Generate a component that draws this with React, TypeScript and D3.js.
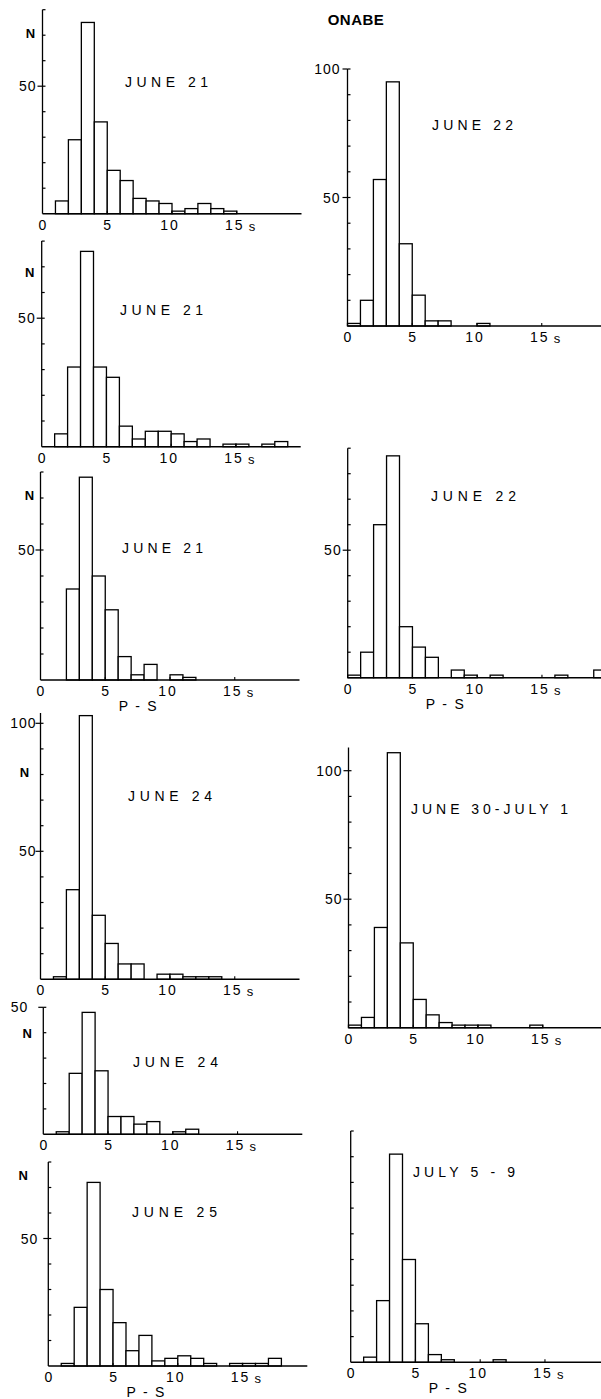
import { useEffect, useRef } from 'react';
import * as d3 from 'd3';

// number of events per 1 s bin of P-S time (bin i covers i..i+1 s)
const june21a = [0, 5, 29, 75, 36, 17, 13, 6, 5, 4, 1, 2, 4, 2, 1, 0, 0, 0, 0, 0];
const june22a = [1, 10, 57, 95, 32, 12, 2, 2, 0, 0, 1, 0, 0, 0, 0, 0, 0, 0, 0, 0];
const june21b = [0, 5, 31, 76, 31, 27, 8, 3, 6, 6, 5, 2, 3, 0, 1, 1, 0, 1, 2, 0];
const june21c = [0, 0, 35, 78, 40, 27, 9, 2, 6, 0, 2, 1, 0, 0, 0, 0, 0, 0, 0, 0];
const june22b = [1, 10, 60, 87, 20, 12, 8, 0, 3, 1, 0, 1, 0, 0, 0, 0, 1, 0, 0, 3];
const june24a = [0, 1, 35, 103, 25, 14, 6, 6, 0, 2, 2, 1, 1, 1, 0, 0, 0, 0, 0, 0];
const june30 = [1, 4, 39, 107, 33, 11, 5, 2, 1, 1, 1, 0, 0, 0, 1, 0, 0, 0, 0, 0];
const june24b = [0, 1, 24, 48, 25, 7, 7, 4, 5, 0, 1, 2, 0, 0, 0, 0, 0, 0, 0, 0];
const june25 = [0, 1, 23, 72, 30, 17, 6, 12, 2, 3, 4, 3, 1, 0, 1, 1, 1, 3, 0, 0];
const july5 = [0, 2, 24, 81, 40, 15, 3, 1, 0, 0, 0, 1, 0, 0, 0, 0, 0, 0, 0, 0];

const titles = ['JUNE 21', 'JUNE 22', 'JUNE 21', 'JUNE 21', 'JUNE 22', 'JUNE 24',
  'JUNE 30-JULY 1', 'JUNE 24', 'JUNE 25', 'JULY 5 - 9'];
const xTicks = [0, 5, 10, 15];
const xLabel = 'P - S';

// layout of each small histogram on the page
const panels = [
  { counts: june21a, left: 42.5, bottom: 213.7, k: 2.55, yMax: 80, labels: [50], n: 71, nDx: 12, lab: 6, tx: 125, ty: 87, tw: 83, ps: false },
  { counts: june22a, left: 347.5, bottom: 326, k: 2.57, yMax: 100, labels: [50, 100], n: null, nDx: 0, lab: 7, tx: 432, ty: 130, tw: 81, ps: false },
  { counts: june21b, left: 41.7, bottom: 446.7, k: 2.57, yMax: 80, labels: [50], n: 68, nDx: 12, lab: 6, tx: 120, ty: 315, tw: 83, ps: false },
  { counts: june21c, left: 40.5, bottom: 680, k: 2.6, yMax: 80, labels: [50], n: 71, nDx: 11, lab: 5, tx: 122, ty: 553, tw: 81, ps: true },
  { counts: june22b, left: 347.7, bottom: 677.7, k: 2.55, yMax: 90, labels: [50], n: null, nDx: 0, lab: 6, tx: 431, ty: 501, tw: 85, ps: true },
  { counts: june24a, left: 40.5, bottom: 979.3, k: 2.56, yMax: 104, labels: [50, 100], n: 81, nDx: 16, lab: 4, tx: 128, ty: 801, tw: 84, ps: false },
  { counts: june30, left: 348.5, bottom: 1027.7, k: 2.57, yMax: 109, labels: [50, 100], n: null, nDx: 0, lab: 6, tx: 411, ty: 814, tw: 157, ps: false },
  { counts: june24b, left: 43.3, bottom: 1134.3, k: 2.54, yMax: 50, labels: [50], n: 40, nDx: 16, lab: 15, tx: 133, ty: 1067, tw: 85, ps: false },
  { counts: june25, left: 48.3, bottom: 1366, k: 2.55, yMax: 80, labels: [50], n: 75, nDx: 25, lab: 10, tx: 132, ty: 1217, tw: 85, ps: true },
  { counts: july5, left: 350.7, bottom: 1362.3, k: 2.57, yMax: 90, labels: [], n: null, nDx: 0, lab: 6, tx: 413, ty: 1177, tw: 102, ps: true },
];

const FONT = '"Liberation Sans", Arial, sans-serif';

const App = () => {
  const svgRef = useRef(null);

  useEffect(() => {
    const svg = d3.select(svgRef.current);
    svg.selectAll('*').remove();

    svg.append('text')
      .attr('x', 356).attr('y', 25)
      .attr('text-anchor', 'middle')
      .attr('font-family', FONT).attr('font-weight', 'bold').attr('font-size', 15)
      .attr('letter-spacing', 0.5)
      .text('ONABE');

    panels.forEach((p, idx) => {
      const sx = 12.95;
      const x = d3.scaleLinear().domain([0, 20]).range([p.left, p.left + 20 * sx]);
      const y = d3.scaleLinear().domain([0, p.yMax]).range([p.bottom, p.bottom - p.yMax * p.k]);
      const g = svg.append('g');

      const bins = p.counts.map((c, i) => ({ i, c })).filter(d => d.c > 0);
      g.selectAll('rect')
        .data(bins)
        .join('rect')
        .attr('x', d => x(d.i))
        .attr('y', d => y(d.c))
        .attr('width', d => x(d.i + 1) - x(d.i))
        .attr('height', d => p.bottom - y(d.c))
        .attr('fill', 'white')
        .attr('stroke', 'black')
        .attr('stroke-width', 1.3);

      // baseline
      g.append('line')
        .attr('x1', x(0)).attr('x2', x(20))
        .attr('y1', p.bottom).attr('y2', p.bottom)
        .attr('stroke', 'black').attr('stroke-width', 1.4);

      // y axis
      g.append('line')
        .attr('x1', p.left).attr('x2', p.left)
        .attr('y1', p.bottom).attr('y2', y(p.yMax))
        .attr('stroke', 'black').attr('stroke-width', 1.3);

      const minor = d3.range(10, p.yMax + 0.01, 10);
      g.selectAll('line.minor')
        .data(minor)
        .join('line')
        .attr('class', 'minor')
        .attr('x1', p.left).attr('x2', p.left + 3)
        .attr('y1', d => y(d)).attr('y2', d => y(d))
        .attr('stroke', 'black').attr('stroke-width', 1.2);

      g.selectAll('line.major')
        .data(p.labels)
        .join('line')
        .attr('class', 'major')
        .attr('x1', p.left - 5).attr('x2', p.left)
        .attr('y1', d => y(d)).attr('y2', d => y(d))
        .attr('stroke', 'black').attr('stroke-width', 1.2);

      g.selectAll('text.ylab')
        .data(p.labels)
        .join('text')
        .attr('class', 'ylab')
        .attr('x', p.left - p.lab)
        .attr('y', d => y(d) + 5)
        .attr('text-anchor', 'end')
        .attr('font-family', FONT).attr('font-size', 14)
        .attr('letter-spacing', 1)
        .text(d => d);

      if (p.n !== null) {
        g.append('text')
          .attr('x', p.left - p.nDx)
          .attr('y', y(p.n) + 5)
          .attr('text-anchor', 'middle')
          .attr('font-family', FONT).attr('font-weight', 'bold').attr('font-size', 13)
          .text('N');
      }

      // x tick marks and labels
      g.selectAll('line.xt')
        .data(xTicks.slice(1))
        .join('line')
        .attr('class', 'xt')
        .attr('x1', d => x(d)).attr('x2', d => x(d))
        .attr('y1', p.bottom).attr('y2', p.bottom - 3)
        .attr('stroke', 'black').attr('stroke-width', 1.1);

      g.selectAll('text.xlab')
        .data(xTicks)
        .join('text')
        .attr('class', 'xlab')
        .attr('x', d => x(d) - (d >= 10 ? 2 : 0))
        .attr('y', p.bottom + 16)
        .attr('text-anchor', 'middle')
        .attr('font-family', FONT).attr('font-size', 14)
        .attr('letter-spacing', d => (d >= 10 ? 2 : 0))
        .text(d => d);

      g.append('text')
        .attr('x', x(15) + 12)
        .attr('y', p.bottom + 17)
        .attr('font-family', FONT).attr('font-size', 13)
        .text('s');

      if (p.ps) {
        g.append('text')
          .attr('x', x(7.5) - 19)
          .attr('y', p.bottom + 31)
          .attr('textLength', 38).attr('lengthAdjust', 'spacing')
          .attr('font-family', FONT).attr('font-size', 14)
          .text(xLabel);
      }

      g.append('text')
        .attr('x', p.tx)
        .attr('y', p.ty)
        .attr('textLength', p.tw).attr('lengthAdjust', 'spacing')
        .attr('font-family', FONT).attr('font-size', 14)
        .text(titles[idx]);
    });
  }, []);

  return (
    <div style={{ position: 'absolute', left: 0, top: 0 }}>
      <svg ref={svgRef} width={601} height={1399} style={{ display: 'block', background: 'white' }}></svg>
    </div>
  );
};

export default App;
